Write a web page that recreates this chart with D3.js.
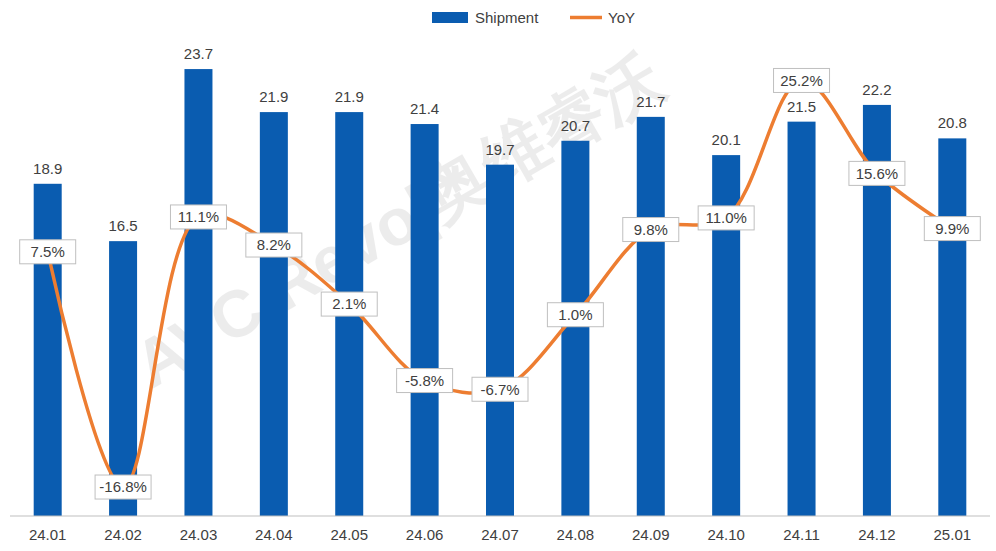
<!DOCTYPE html>
<html><head><meta charset="utf-8">
<script src="https://cdn.jsdelivr.net/npm/d3@7"></script>
<style>body{margin:0;background:#fff}text{font-family:"Liberation Sans",Arial,sans-serif}</style>
</head><body><svg id="chart" width="996" height="551"></svg>
<script>
const months = ["24.01","24.02","24.03","24.04","24.05","24.06","24.07","24.08","24.09","24.10","24.11","24.12","25.01"];
const shipment = [18.9,16.5,23.7,21.9,21.9,21.4,19.7,20.7,21.7,20.1,21.5,22.2,20.8];
const yoy = [7.5,-16.8,11.1,8.2,2.1,-5.8,-6.7,1.0,9.8,11.0,25.2,15.6,9.9];

const svg = d3.select("#chart");
const x = d3.scaleBand().domain(months).range([10, 990]);
const y = d3.scaleLinear().domain([5, 25]).range([516, 38]);
const y2 = d3.scaleLinear().domain([-20, 30]).range([518, 34]);
const cx = (d) => x(d) + x.bandwidth() / 2;

// watermark
svg.append("text")
	.attr("transform", "translate(410,240) rotate(-30)")
	.attr("text-anchor", "middle")
	.attr("font-size", 66).attr("font-weight", "bold")
	.attr("fill", "#000").attr("opacity", 0.07)
	.text("AVC Revo|奥维睿沃");

svg.selectAll("rect.bar").data(months).join("rect")
	.attr("class", "bar")
	.attr("x", (d) => cx(d) - 14).attr("width", 28)
	.attr("y", (d, i) => y(shipment[i]))
	.attr("height", (d, i) => 516 - y(shipment[i]))
	.attr("fill", "#0a5cb0");

svg.selectAll("text.val").data(months).join("text")
	.attr("x", cx).attr("y", (d, i) => y(shipment[i]) - 10)
	.attr("text-anchor", "middle").attr("font-size", 15).attr("fill", "#404040")
	.text((d, i) => shipment[i].toFixed(1));

svg.append("line").attr("x1", 10).attr("x2", 990).attr("y1", 516).attr("y2", 516)
	.attr("stroke", "#bfbfbf");
svg.selectAll("text.cat").data(months).join("text")
	.attr("x", cx).attr("y", 540).attr("text-anchor", "middle")
	.attr("font-size", 15).attr("fill", "#404040").text((d) => d);

const line = d3.line().x((d, i) => cx(months[i])).y((d) => y2(d)).curve(d3.curveCatmullRom.alpha(0.5));
svg.append("path").datum(yoy).attr("d", line)
	.attr("fill", "none").attr("stroke", "#ed7d31").attr("stroke-width", 3.5);

const lab = svg.selectAll("g.yoy").data(yoy).join("g")
	.attr("transform", (d, i) => `translate(${cx(months[i])},${y2(d)})`);
lab.append("rect").attr("x", -28).attr("y", -12).attr("width", 56).attr("height", 24)
	.attr("fill", "#fff").attr("stroke", "#bfbfbf");
lab.append("text").attr("text-anchor", "middle").attr("dy", "0.36em")
	.attr("font-size", 15).attr("fill", "#404040").text((d) => d.toFixed(1) + "%");

// legend
svg.append("rect").attr("x", 432).attr("y", 12).attr("width", 36).attr("height", 11).attr("fill", "#0a5cb0");
svg.append("text").attr("x", 475).attr("y", 23).attr("font-size", 15).attr("fill", "#404040").text("Shipment");
svg.append("line").attr("x1", 570).attr("x2", 602).attr("y1", 17.5).attr("y2", 17.5)
	.attr("stroke", "#ed7d31").attr("stroke-width", 3.5);
svg.append("text").attr("x", 608).attr("y", 23).attr("font-size", 15).attr("fill", "#404040").text("YoY");
</script></body></html>
